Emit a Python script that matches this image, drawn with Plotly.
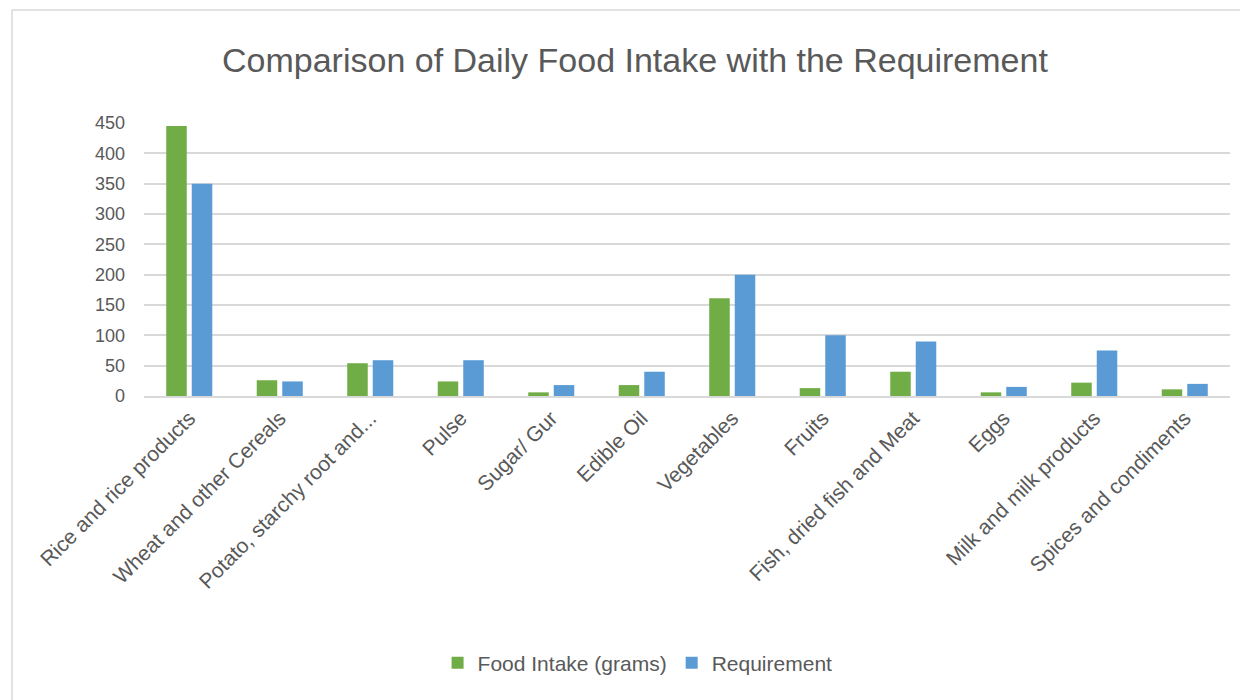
import plotly.graph_objects as go

categories = [
    "Rice and rice products",
    "Wheat and other Cereals",
    "Potato, starchy root and...",
    "Pulse",
    "Sugar/ Gur",
    "Edible Oil",
    "Vegetables",
    "Fruits",
    "Fish, dried fish and Meat",
    "Eggs",
    "Milk and milk products",
    "Spices and condiments",
]
food_intake = [445, 26, 54, 24, 6, 18, 161, 13, 40, 6, 22, 11]
requirement = [350, 24, 59, 59, 18, 40, 200, 100, 90, 15, 75, 20]
y_ticks = [0, 50, 100, 150, 200, 250, 300, 350, 400, 450]

FONT = "Liberation Sans"
TXT = "#595959"
GRID = "#d9d9d9"

fig = go.Figure()
fig.add_trace(go.Bar(name="Food Intake (grams)", x=categories, y=food_intake,
                     marker=dict(color="#70ad47", line=dict(width=0))))
fig.add_trace(go.Bar(name="Requirement", x=categories, y=requirement,
                     marker=dict(color="#5b9bd5", line=dict(width=0))))

fig.update_layout(
    width=1240, height=692,
    margin=dict(l=136, r=18, t=115, b=304, autoexpand=False),
    paper_bgcolor="white", plot_bgcolor="white",
    barmode="group", bargap=0.436, bargroupgap=0.196,
    font=dict(family=FONT, color=TXT, size=20),
    title=dict(text="Comparison of Daily Food Intake with the Requirement",
               x=0.5056, xanchor="center", y=0.925, yanchor="middle",
               font=dict(family=FONT, size=34, color=TXT)),
    legend=dict(orientation="h", x=0.4545, xanchor="center", y=-0.978, yanchor="middle",
                font=dict(family=FONT, size=21, color=TXT), traceorder="normal"),
    xaxis=dict(showgrid=False, showline=True, linecolor=GRID, linewidth=1.5,
               tickangle=-45, ticks="", tickfont=dict(family=FONT, size=21, color=TXT)),
    yaxis=dict(range=[0, 450], tickvals=y_ticks, showgrid=True, gridcolor=GRID, gridwidth=1.5,
               zeroline=False, showline=False, ticks="", ticklabelstandoff=18,
               tickfont=dict(family=FONT, size=18, color=TXT)),
    shapes=[dict(type="rect", xref="paper", yref="paper",
                 x0=(4 - 136) / 1086, x1=(1260 - 136) / 1086,
                 y0=(388 - 710) / 273, y1=(388 - 2) / 273,
                 line=dict(color=GRID, width=1.5), fillcolor="rgba(0,0,0,0)", layer="below")],
)

fig.write_html("out.html")
